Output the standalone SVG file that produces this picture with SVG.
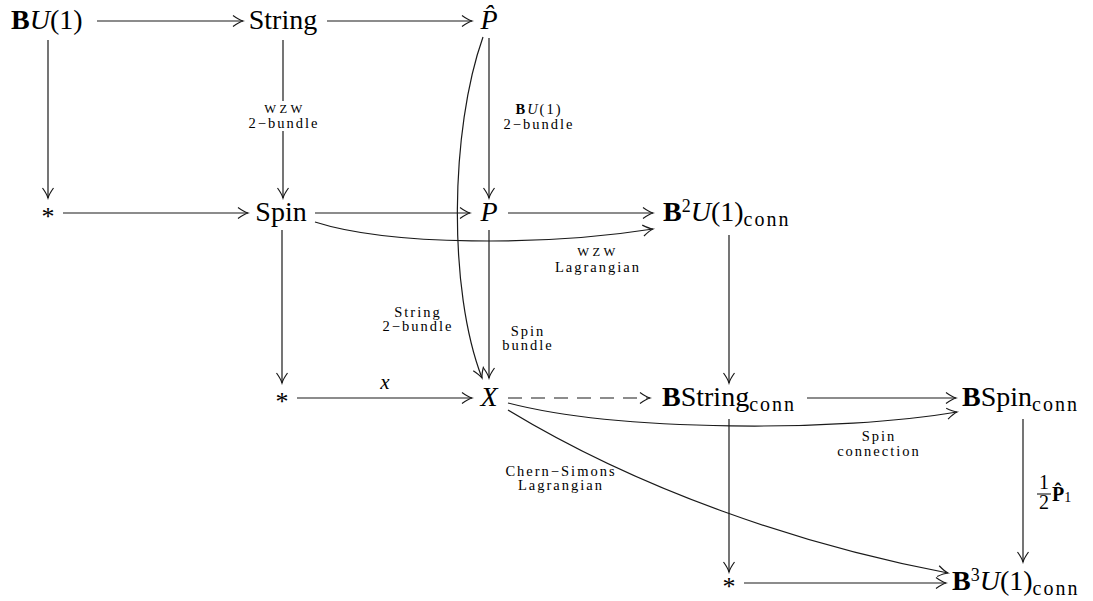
<svg xmlns="http://www.w3.org/2000/svg" width="1093" height="601" viewBox="0 0 1093 601">
<style>
.n{font-family:"Liberation Serif","Times New Roman",serif;font-size:28px;fill:#000}
.m{text-anchor:middle}
.b{font-weight:bold}
.i{font-style:italic}
.sub{font-size:20px;letter-spacing:2px}
.sup{font-size:18px}
.st{font-size:26px}
.fr{font-size:20px}
.fs{font-size:14px}
.l{font-family:"Liberation Serif","Times New Roman",serif;font-size:14.5px;letter-spacing:2px;fill:#000;text-anchor:middle}
.sc{font-size:12.5px;letter-spacing:3.5px}
.c{fill:none;stroke:#1a1a1a;stroke-width:1.2}
.d{stroke-dasharray:14 9}
</style>
<defs>
<marker id="a" viewBox="-11 -7 13 14" refX="0" refY="0" markerWidth="13" markerHeight="14" markerUnits="userSpaceOnUse" orient="auto">
<path d="M-10,-5.5 Q-4,-1.2 0,0 Q-4,1.2 -10,5.5" fill="none" stroke="#1a1a1a" stroke-width="1.2"/>
</marker>
</defs>
<rect width="1093" height="601" fill="#fff"/>
<g id="connectors" marker-end="url(#a)">
<path class="c" d="M97,21 H243"/>
<path class="c" d="M327,21 H472"/>
<path class="c" d="M48,40 V198"/>
<path class="c" d="M283,40 V198"/>
<path class="c" d="M489,38 V198"/>
<path class="c" d="M63,213 H248"/>
<path class="c" d="M315,213 H470"/>
<path class="c" d="M508,213 H653"/>
<path class="c" d="M315,222 C390,246 545,246 653,229"/>
<path class="c" d="M483,37 C450,130 448,290 482,378"/>
<path class="c" d="M489,230 V378"/>
<path class="c" d="M282,230 V383"/>
<path class="c" d="M297,398 H472"/>
<path class="c d" d="M508,398 H650"/>
<path class="c" d="M729,235 V383"/>
<path class="c" d="M807,398 H956"/>
<path class="c" d="M508,403 C620,432 840,432 957,412"/>
<path class="c" d="M508,410 C640,490 800,545 948,573"/>
<path class="c" d="M729,419 V572"/>
<path class="c" d="M744,583 H946"/>
<path class="c" d="M1023,419 V562"/>
</g>
<g id="labels">
<g id="lbl-wzw-2bundle">
<rect x="262" y="101" width="42" height="30" fill="#fff"/>
<text class="l sc" x="285" y="113">WZW</text>
<text class="l" x="284" y="128">2−bundle</text>
</g>
<g id="lbl-bu1-2bundle">
<text class="l" x="539" y="114"><tspan class="b">B</tspan><tspan class="i">U</tspan>(1)</text>
<text class="l" x="539" y="129">2−bundle</text>
</g>
<g id="lbl-wzw-lagrangian">
<text class="l sc" x="598" y="256">WZW</text>
<text class="l" x="598" y="272">Lagrangian</text>
</g>
<g id="lbl-string-2bundle">
<text class="l" x="418" y="317">String</text>
<text class="l" x="418" y="331">2−bundle</text>
</g>
<g id="lbl-spin-bundle">
<text class="l" x="528" y="336">Spin</text>
<text class="l" x="528" y="350">bundle</text>
</g>
<text id="lbl-x" class="n i m" x="385" y="389" style="font-size:21px">x</text>
<g id="lbl-spin-connection">
<text class="l" x="879" y="441">Spin</text>
<text class="l" x="879" y="456">connection</text>
</g>
<g id="lbl-chern-simons">
<text class="l" x="561" y="476">Chern−Simons</text>
<text class="l" x="561" y="490">Lagrangian</text>
</g>
<g id="lbl-p1">
<line x1="1037" y1="494" x2="1051" y2="494" stroke="#000" stroke-width="1"/>
<text class="n m fr" x="1044" y="489">1</text>
<text class="n m fr" x="1044" y="509">2</text>
<text class="n fr" x="1052" y="501"><tspan class="b">P̂</tspan><tspan class="fs" dy="1">1</tspan></text>
</g>
</g>
<g id="node-BU1"><text class="n" x="11" y="29"><tspan class="b">B</tspan><tspan class="i">U</tspan>(1)</text></g>
<g id="node-String"><text class="n m" x="283" y="29">String</text></g>
<g id="node-Phat"><text class="n m i" x="489" y="29">P̂</text></g>
<g id="node-star1"><text class="n m st" x="48" y="225">*</text></g>
<g id="node-Spin"><text class="n m" x="281" y="221">Spin</text></g>
<g id="node-P"><text class="n m i" x="489" y="221">P</text></g>
<g id="node-B2U1"><text class="n" x="663" y="221"><tspan class="b">B</tspan><tspan class="sup" dy="-9">2</tspan><tspan class="i" dy="9">U</tspan>(1)<tspan class="sub" dy="5">conn</tspan></text></g>
<g id="node-star2"><text class="n m st" x="282" y="410">*</text></g>
<g id="node-X"><text class="n m i" x="489" y="406">X</text></g>
<g id="node-BString"><text class="n" x="662" y="406"><tspan class="b">B</tspan>String<tspan class="sub" dy="5">conn</tspan></text></g>
<g id="node-BSpin"><text class="n" x="962" y="406"><tspan class="b">B</tspan>Spin<tspan class="sub" dy="5">conn</tspan></text></g>
<g id="node-star3"><text class="n m st" x="729" y="595">*</text></g>
<g id="node-B3U1"><text class="n" x="952" y="590"><tspan class="b">B</tspan><tspan class="sup" dy="-9">3</tspan><tspan class="i" dy="9">U</tspan>(1)<tspan class="sub" dy="5">conn</tspan></text></g>
</svg>
